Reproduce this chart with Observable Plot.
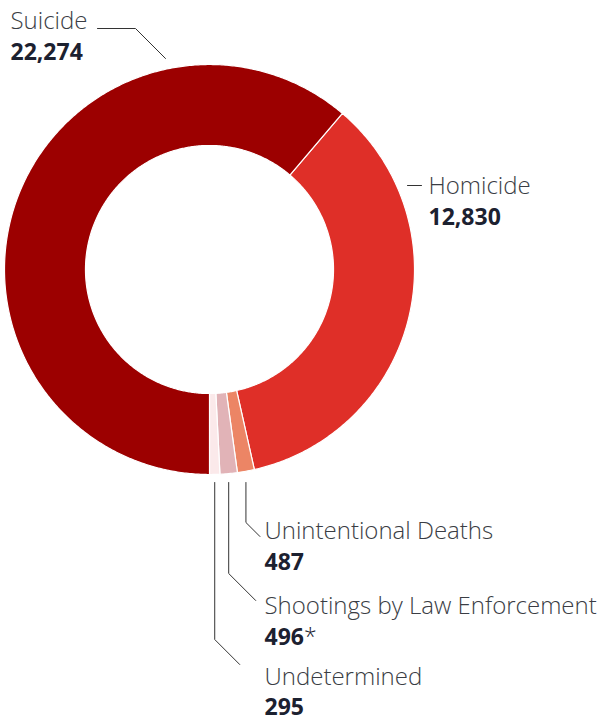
<!DOCTYPE html>
<html>
<head>
<meta charset="utf-8">
<script src="https://cdn.jsdelivr.net/npm/d3@7"></script>
<script src="https://cdn.jsdelivr.net/npm/@observablehq/plot@0.6"></script>
<style>
  html, body { margin: 0; padding: 0; background: #fff; }
  #chart svg { display: block; }
</style>
</head>
<body>
<div id="chart"></div>
<script>
// ---- Data ----
const categories = ["Suicide", "Homicide", "Unintentional Deaths", "Shootings by Law Enforcement", "Undetermined"];
const values = [22274, 12830, 487, 496, 295];
const notes = ["", "", "", "*", ""];
const colors = ["#9c0000", "#df2f28", "#ec8565", "#e1b3b7", "#fbe9ea"];

// ---- Geometry (outer radius = 1) ----
const W = 598, H = 721, CX = 209, CY = 269, RPX = 205;
const inner = 0.605;
const total = d3.sum(values);
// clockwise from top; Suicide ends at bottom (180°) and wraps to top-right
const order = [1, 2, 3, 4, 0];
const start = 180 + 360 * values[0] / total - 360;
const slices = [];
let a = start;
for (const i of order) {
  const span = 360 * values[i] / total;
  slices.push({i, name: categories[i], a0: a, a1: a + span, mid: a + span / 2});
  a += span;
}
const rad = d => d * Math.PI / 180;
const pt = (r, deg) => [r * Math.sin(rad(deg)), r * Math.cos(rad(deg))];

const arcPts = [];
for (const s of slices) {
  const n = Math.max(4, Math.ceil((s.a1 - s.a0) / 0.5));
  for (let k = 0; k <= n; k++) {
    const [x, y] = pt(1, s.a0 + (s.a1 - s.a0) * k / n);
    arcPts.push({name: s.name, x, y});
  }
  for (let k = n; k >= 0; k--) {
    const [x, y] = pt(inner, s.a0 + (s.a1 - s.a0) * k / n);
    arcPts.push({name: s.name, x, y});
  }
}

// pixel layout helpers -> data units
const ux = p => (p - CX) / RPX;
const uy = p => (CY - p) / RPX;
const byName = Object.fromEntries(slices.map(s => [s.name, s]));

// leader lines
const leaders = [];
[[97, 28], [135, 28], [165, 58]].forEach(([x, y]) => leaders.push({name: "Suicide", x: ux(x), y: uy(y)}));
[[407, 185], [421, 185]].forEach(([x, y]) => leaders.push({name: "Homicide", x: ux(x), y: uy(y)}));
const bottom = [
  {name: "Unintentional Deaths", elbow: 522, end: 536},
  {name: "Shootings by Law Enforcement", elbow: 573, end: 600},
  {name: "Undetermined", elbow: 639, end: 664}
];
for (const b of bottom) {
  const s = byName[b.name];
  const x0 = Math.sin(rad(s.mid));
  const xp = CX + x0 * RPX;
  leaders.push({name: b.name, x: x0, y: -(1 + 8 / RPX)});
  leaders.push({name: b.name, x: x0, y: uy(b.elbow)});
  leaders.push({name: b.name, x: ux(xp + (b.end - b.elbow)), y: uy(b.end)});
}

// labels
const labelPos = {
  "Suicide": [10, 28],
  "Homicide": [428, 193],
  "Unintentional Deaths": [264, 538],
  "Shootings by Law Enforcement": [264, 613],
  "Undetermined": [264, 684]
};
const fmt = d3.format(",");
const labels = categories.map((c, i) => ({
  name: c,
  value: fmt(values[i]),
  note: notes[i],
  x: ux(labelPos[c][0]),
  y: uy(labelPos[c][1]),
  y2: uy(labelPos[c][1] + (c === "Undetermined" ? 30 : 31.5))
}));

const chart = Plot.plot({
  width: W,
  height: H,
  margin: 0,
  x: {domain: [ux(0), ux(W)], range: [0, W], axis: null},
  y: {domain: [uy(0), uy(H)], range: [0, H], axis: null},
  color: {domain: categories, range: colors},
  style: {fontFamily: "'Open Sans', sans-serif", background: "#fff"},
  marks: [
    Plot.line(arcPts, {x: "x", y: "y", z: "name", fill: "name", stroke: "#fff", strokeWidth: 1.2, curve: "linear-closed"}),
    Plot.line(leaders, {x: "x", y: "y", z: "name", stroke: "#333", strokeWidth: 1}),
    Plot.text(labels, {x: "x", y: "y", text: "name", textAnchor: "start", lineAnchor: "bottom", fontSize: 24, fontWeight: 300, fill: "#3a3d44"}),
    Plot.text(labels, {x: "x", y: "y2", text: d => d.value + d.note, textAnchor: "start", lineAnchor: "bottom", fontSize: 23, fontWeight: 700, fill: "#1c2130", className: "vals"})
  ]
});
// render footnote markers in a light weight
chart.querySelectorAll("g.vals text").forEach(t => {
  const s = t.textContent;
  if (s.endsWith("*")) {
    t.textContent = s.slice(0, -1);
    const ts = document.createElementNS("http://www.w3.org/2000/svg", "tspan");
    ts.setAttribute("font-weight", "300");
    ts.textContent = "*";
    t.appendChild(ts);
  }
});
document.getElementById("chart").append(chart);
</script>
</body>
</html>
